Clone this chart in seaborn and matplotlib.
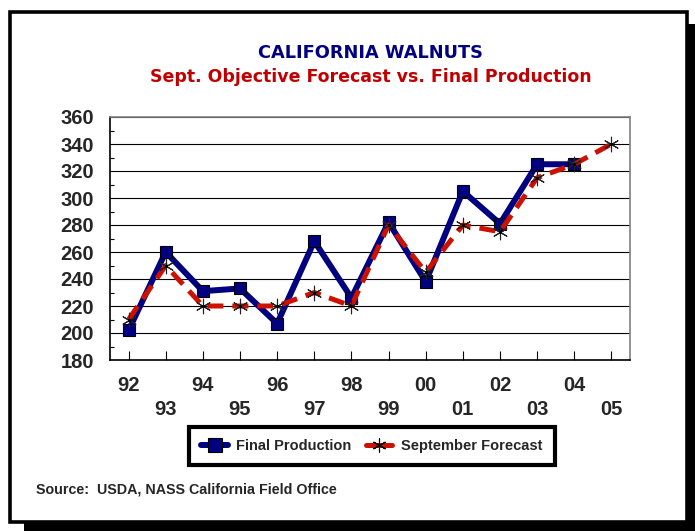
import numpy as np
import pandas as pd
import matplotlib
matplotlib.use("Agg")
import matplotlib.pyplot as plt
import seaborn as sns
from matplotlib.patches import Rectangle
from matplotlib.lines import Line2D

# ------------------------------------------
# Data
# ------------------------------------------
years = ["92", "93", "94", "95", "96", "97", "98", "99", "00", "01", "02", "03", "04", "05"]
final_production = [202, 260, 231, 233, 207, 268, 226, 282, 238, 305, 281, 325, 325, np.nan]
sept_forecast = [210, 250, 220, 220, 220, 230, 220, 280, 245, 280, 275, 315, 325, 340]

df = pd.DataFrame({
    "pos": np.arange(len(years)),
    "year": years,
    "final": final_production,
    "forecast": sept_forecast,
})

sns.set_style("white")
plt.rcParams["font.family"] = ["Liberation Sans", "DejaVu Sans"]
plt.rcParams["font.weight"] = "bold"

W, H = 695, 531
fig = plt.figure(figsize=(W / 100, H / 100), dpi=100)
fig.patch.set_facecolor("white")

# outer frame with drop shadow
def px(x0, y0, x1, y1, **kw):
    return Rectangle((x0 / W, 1 - y1 / H), (x1 - x0) / W, (y1 - y0) / H,
                     transform=fig.transFigure, **kw)

fig.patches.append(px(24, 521, 695, 531, facecolor="black", edgecolor="none", zorder=0))
fig.patches.append(px(686, 24, 695, 531, facecolor="black", edgecolor="none", zorder=0))
fig.patches.append(px(10, 11.5, 686.5, 522, facecolor="white", edgecolor="black",
                      linewidth=2.6, zorder=1))

ax = fig.add_axes([110 / W, 1 - 360 / H, 520 / W, 243 / H])
ax.set_zorder(3)
ax.set_facecolor("white")

sns.lineplot(data=df, x="pos", y="final", ax=ax, color="#000080", linewidth=4.3,
             marker="s", markersize=8.5, markeredgecolor="black", markeredgewidth=0.8,
             zorder=3)
sns.lineplot(data=df, x="pos", y="forecast", ax=ax, color="#CC1100", linewidth=3.6,
             zorder=4)
ax.lines[-1].set_linestyle((0, (3.2, 1.8)))
# asterisk markers on top of the dashed line
sns.scatterplot(data=df, x="pos", y="forecast", ax=ax, marker=(6, 2, 0), s=110,
                color="#222222", linewidth=0.8, zorder=5)
sns.scatterplot(data=df, x="pos", y="forecast", ax=ax, marker="o", s=5,
                color="black", linewidth=0, zorder=6)

ax.set_xlim(-0.5, 13.5)
ax.set_ylim(180, 360)
ax.set_yticks(np.arange(180, 361, 20))
ax.set_yticks(np.arange(190, 360, 20), minor=True)
ax.yaxis.grid(True, color="black", linewidth=0.8)
ax.set_axisbelow(True)

labels = [y if i % 2 == 0 else "\n" + y for i, y in enumerate(years)]
ax.set_xticks(df["pos"])
ax.set_xticklabels(labels)
for t in ax.get_xticklabels():
    t.set_linespacing(1.35)

ax.tick_params(axis="x", direction="in", length=6.5, width=0.8, color="black",
               pad=11.5, labelsize=14.5, bottom=True)
ax.tick_params(axis="y", which="major", length=0, pad=11.5, labelsize=14.5)
ax.tick_params(axis="y", which="minor", direction="in", length=3, width=0.8,
               color="black", left=True)

for s in ["top", "right"]:
    ax.spines[s].set_color("#808080")
    ax.spines[s].set_linewidth(1.2)
for s in ["left", "bottom"]:
    ax.spines[s].set_color("black")
    ax.spines[s].set_linewidth(1.2)

ax.set_xlabel("")
ax.set_ylabel("")

# titles
fig.text(370 / W, 1 - 53 / H, "CALIFORNIA WALNUTS", ha="center", va="center",
         color="#000080", fontsize=12.8, fontweight="bold", family="DejaVu Sans")
fig.text(371 / W, 1 - 77 / H, "Sept. Objective Forecast vs. Final Production",
         ha="center", va="center", color="#C00000", fontsize=12.5, fontweight="bold",
         family="DejaVu Sans")

# legend
handles = [
    Line2D([], [], color="#000080", linewidth=4.3, marker="s", markersize=9.5,
           markeredgecolor="black", markeredgewidth=0.8),
    Line2D([], [], color="#CC1100", linewidth=3.6, marker=(6, 2, 0), markersize=10,
           markeredgecolor="black", markeredgewidth=0.8),
]
leg = fig.legend(handles, ["Final Production", "September Forecast"], ncol=2,
                 loc="center", bbox_to_anchor=(372 / W, 1 - 446 / H),
                 frameon=True, fancybox=False, framealpha=1, handlelength=1.8,
                 handletextpad=0.6, columnspacing=1.0, borderpad=0.85,
                 prop={"size": 10.5, "weight": "bold"})
leg.get_frame().set_edgecolor("black")
leg.get_frame().set_linewidth(3)
leg.set_zorder(4)

fig.text(36 / W, 1 - 489 / H, "Source:  USDA, NASS California Field Office",
         ha="left", va="center", fontsize=10.3, fontweight="bold")

fig.savefig("out.png", dpi=100, facecolor="white")
